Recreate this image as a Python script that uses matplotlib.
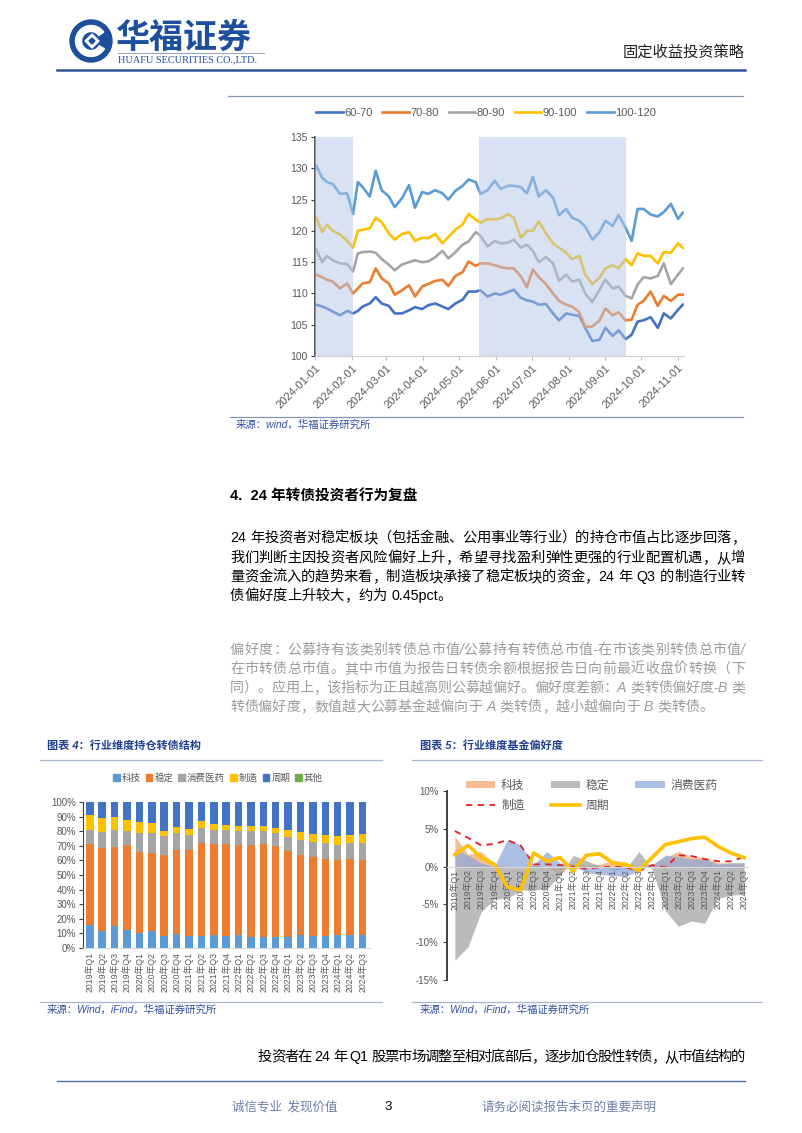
import re
import numpy as np
import pandas as pd
import matplotlib
matplotlib.use('Agg')
import matplotlib.pyplot as plt
import matplotlib.dates as mdates
from matplotlib.patches import Circle, Wedge, Polygon, Patch, Rectangle
from matplotlib.lines import Line2D

W, H = 802, 1133
CJK = 'Noto Sans CJK SC'
plt.rcParams['font.family'] = ['Liberation Sans', CJK, 'DejaVu Sans']
plt.rcParams['axes.unicode_minus'] = False

# ---------------- top chart: convertible price index by price bucket ----------------
dates = ['2024-01-02', '2024-01-07', '2024-01-11', '2024-01-16', '2024-01-22', '2024-01-28',
         '2024-02-02', '2024-02-06', '2024-02-10', '2024-02-16', '2024-02-21', '2024-02-26',
         '2024-03-03', '2024-03-08', '2024-03-14', '2024-03-20', '2024-03-25', '2024-03-31',
         '2024-04-05', '2024-04-11', '2024-04-17', '2024-04-22', '2024-04-28',
         '2024-05-04', '2024-05-09', '2024-05-15', '2024-05-19', '2024-05-25', '2024-05-31',
         '2024-06-05', '2024-06-11', '2024-06-16', '2024-06-22', '2024-06-27',
         '2024-07-02', '2024-07-07', '2024-07-13', '2024-07-19', '2024-07-24', '2024-07-30',
         '2024-08-04', '2024-08-10', '2024-08-15', '2024-08-21', '2024-08-27',
         '2024-09-01', '2024-09-07', '2024-09-12', '2024-09-18', '2024-09-23', '2024-09-28',
         '2024-10-03', '2024-10-09', '2024-10-15', '2024-10-20', '2024-10-26',
         '2024-11-01', '2024-11-05']
p60_70 = [108.2, 107.9, 107.6, 107.1, 106.5, 107.2, 106.8, 107.2, 107.9, 108.4, 109.4, 108.4,
          108.0, 106.8, 106.8, 107.3, 107.8, 107.5, 108.1, 108.4, 107.9, 107.5, 108.4,
          109.0, 110.3, 110.3, 110.5, 109.5, 110.0, 109.8, 110.2, 110.6, 109.3, 108.9,
          108.7, 108.2, 108.3, 106.8, 105.7, 106.8, 106.6, 106.4, 104.5, 102.4, 102.6,
          104.5, 103.2, 104.1, 102.7, 103.4, 105.5, 105.7, 106.2, 104.5, 106.8, 106.0,
          107.4, 108.2]
p70_80 = [113.0, 112.6, 112.2, 111.9, 110.8, 111.6, 110.0, 110.8, 111.6, 111.8, 114.0, 112.4,
          111.6, 109.8, 110.5, 111.3, 109.5, 111.1, 111.5, 112.0, 112.2, 111.2, 112.8,
          113.4, 115.1, 114.4, 114.8, 114.8, 114.5, 114.2, 114.0, 114.0, 112.7, 111.0,
          113.8, 112.6, 111.5, 110.0, 108.8, 108.2, 107.9, 107.0, 104.7, 104.7, 105.7,
          107.6, 106.5, 107.0, 105.7, 105.8, 108.2, 108.8, 110.3, 108.0, 109.6, 108.8,
          109.8, 109.8]
p80_90 = [117.0, 115.0, 116.0, 115.3, 114.8, 114.7, 113.5, 116.4, 116.6, 116.7, 116.5, 115.5,
          114.6, 113.7, 114.6, 115.0, 115.3, 115.0, 115.1, 115.8, 116.8, 115.6, 116.6,
          117.8, 118.3, 119.8, 119.2, 117.5, 118.4, 118.0, 118.1, 118.6, 117.3, 117.8,
          116.8, 115.0, 115.8, 114.8, 112.0, 113.0, 111.9, 112.2, 110.0, 108.6, 110.6,
          112.2, 110.8, 111.1, 109.6, 109.2, 111.4, 112.6, 112.4, 112.8, 114.8, 111.5,
          113.0, 114.0]
p90_100 = [122.1, 119.8, 121.0, 120.0, 119.4, 118.4, 117.3, 120.0, 120.2, 120.4, 122.1, 121.4,
           119.6, 118.6, 119.5, 119.8, 118.4, 118.9, 118.8, 119.5, 118.0, 119.0, 120.2,
           121.0, 122.7, 121.8, 121.3, 121.9, 121.8, 122.0, 122.7, 122.1, 118.9, 120.0,
           120.0, 121.5, 119.6, 118.0, 117.3, 116.5, 115.5, 116.0, 113.0, 111.5, 112.5,
           114.0, 114.5, 114.0, 115.5, 114.5, 116.4, 116.0, 116.0, 114.8, 116.6, 116.5,
           118.0, 117.3]
p100_120 = [130.4, 128.5, 127.8, 127.5, 125.9, 126.0, 122.7, 127.8, 127.0, 125.5, 129.6, 126.5,
            125.5, 123.8, 125.2, 127.3, 123.7, 126.2, 125.9, 126.5, 126.0, 125.0, 126.4,
            127.2, 128.2, 127.8, 125.9, 126.5, 128.0, 126.7, 127.2, 127.2, 127.0, 126.0,
            128.6, 125.5, 126.5, 125.3, 122.5, 123.5, 122.1, 121.6, 120.7, 118.6, 119.8,
            121.6, 120.8, 122.5, 120.5, 118.4, 123.5, 123.5, 122.6, 122.3, 123.0, 124.3,
            121.9, 122.9]
bucket_labels = ['60-70', '70-80', '80-90', '90-100', '100-120']
bucket_colors = ['#4472C4', '#ED7D31', '#A5A5A5', '#FFC000', '#5B9BD5']
shade_periods = [('2024-01-01', '2024-02-02'), ('2024-05-18', '2024-09-18')]

# ---------------- bottom charts: quarters ----------------
quarters = ['2019年Q1', '2019年Q2', '2019年Q3', '2019年Q4', '2020年Q1', '2020年Q2', '2020年Q3',
            '2020年Q4', '2021年Q1', '2021年Q2', '2021年Q3', '2021年Q4', '2022年Q1', '2022年Q2',
            '2022年Q3', '2022年Q4', '2023年Q1', '2023年Q2', '2023年Q3', '2023年Q4', '2024年Q1',
            '2024年Q2', '2024年Q3']

# holding structure (%)
hold_tech = [16.0, 11.9, 15.3, 12.6, 10.3, 11.4, 8.4, 9.8, 8.0, 8.4, 8.7, 8.0, 9.1, 7.5, 7.3,
             7.3, 7.5, 8.7, 8.0, 8.4, 8.7, 8.9, 8.9]
hold_stable = [55.4, 56.5, 53.7, 58.1, 55.6, 53.6, 55.4, 57.0, 59.3, 63.5, 62.2, 62.9, 61.6, 63.2,
               64.1, 62.3, 58.6, 55.1, 54.3, 52.5, 51.3, 52.0, 51.6]
hold_consumer = [9.6, 11.2, 12.0, 9.2, 12.8, 13.5, 12.6, 11.9, 10.0, 10.5, 10.1, 9.6, 9.4, 9.4,
                 8.7, 9.1, 9.9, 10.3, 10.0, 10.9, 10.7, 10.9, 11.3]
hold_manuf = [9.8, 9.2, 8.5, 7.5, 7.8, 6.9, 3.7, 4.1, 4.2, 4.6, 3.9, 3.9, 3.7, 3.7, 3.4, 3.7, 5.0,
              5.5, 5.7, 5.5, 5.7, 5.5, 6.2]
hold_cyclic = [9.2, 11.2, 10.5, 12.6, 13.5, 14.6, 19.9, 17.2, 18.5, 13.0, 15.1, 15.6, 16.2, 16.2,
               16.5, 17.6, 19.0, 20.4, 22.0, 22.7, 23.6, 22.7, 22.0]
hold_other = [0.0, 0.0, 0.0, 0.0, 0.0, 0.0, 0.0, 0.0, 0.0, 0.0, 0.0, 0.0, 0.0, 0.0, 0.0, 0.0,
              0.0, 0.0, 0.0, 0.0, 0.0, 0.0, 0.0]
hold_labels = ['科技', '稳定', '消费医药', '制造', '周期', '其他']
hold_colors = ['#5B9BD5', '#ED7D31', '#A5A5A5', '#FFC000', '#4472C4', '#70AD47']

# fund preference (%)
pref_tech = [4.0, 1.6, 2.0, 0.3, 0.0, 0.0, 0.2, 0.0, -1.0, 0.4, 0.2, 0.3, 0.8, 0.5, -0.5, 0.3,
             1.2, 2.0, 1.3, 1.2, 0.5, 0.5, 0.5]
pref_stable = [-12.4, -10.6, -6.0, -4.3, -4.2, -3.1, -3.1, -2.9, -1.2, 1.5, 0.8, 0.1, -0.5, -0.3,
               2.0, -0.3, -5.8, -7.9, -7.2, -7.5, -4.2, -3.8, -3.6]
pref_consumer = [2.3, 1.5, 0.5, 0.0, 3.6, 2.9, 0.3, 2.0, 0.5, 0.2, -0.8, -1.0, -1.2, -1.3, -0.5,
                 0.2, 1.5, 1.3, 1.0, 1.0, 0.3, 0.5, 0.5]
pref_manuf = [4.7, 3.8, 2.8, 3.0, 3.5, 2.8, 0.3, 0.3, 0.2, 0.0, -0.3, -0.1, 0.0, -0.1, -0.6, 0.2,
              -0.1, 1.5, 1.4, 1.0, 0.7, 0.7, 1.3]
pref_cyclic = [1.6, 2.8, 1.2, 0.3, -2.7, -3.1, 1.8, 0.7, 1.2, -0.6, 1.5, 1.7, 0.5, 0.3, -0.5, 1.2,
               2.9, 3.3, 3.7, 3.9, 2.7, 1.8, 1.2]

# ---------------- page text ----------------
section_title = '4.  24 年转债投资者行为复盘'
para1 = ['24 年投资者对稳定板块（包括金融、公用事业等行业）的持仓市值占比逐步回落，',
         '我们判断主因投资者风险偏好上升，希望寻找盈利弹性更强的行业配置机遇，从增',
         '量资金流入的趋势来看，制造板块承接了稳定板块的资金，24 年 Q3 的制造行业转',
         '债偏好度上升较大，约为 0.45pct。']
para2 = ['偏好度：公募持有该类别转债总市值/公募持有转债总市值-在市该类别转债总市值/',
         '在市转债总市值。其中市值为报告日转债余额根据报告日向前最近收盘价转换（下',
         '同）。应用上，该指标为正且越高则公募越偏好。偏好度差额：A 类转债偏好度-B 类',
         '转债偏好度，数值越大公募基金越偏向于 A 类转债，越小越偏向于 B 类转债。']
last_line = '投资者在 24 年 Q1 股票市场调整至相对底部后，逐步加仓股性转债，从市值结构的'

BLUE = '#1D4F9C'
GREY_TXT = '#595959'


def fx(x):
    return x / W


def fy(y):
    return 1 - y / H


def box(x0, y0, x1, y1):
    return [fx(x0), fy(y1), (x1 - x0) / W, (y1 - y0) / H]


def hline(y, x0, x1, color, lw=0.8):
    fig.add_artist(Line2D([fx(x0), fx(x1)], [fy(y), fy(y)], transform=fig.transFigure,
                          color=color, lw=lw))


fig = plt.figure(figsize=(W / 100, H / 100), dpi=100)
fig.patch.set_facecolor('white')
renderer = fig.canvas.get_renderer()


def put_line(s, x0, y, x1=None, size=10.3, color='#000000', **kw):
    # lay text out token by token; if x1 is given, spread it to fill x0..x1
    toks = re.findall(r'[A-Za-z0-9.%]+|.', s)
    objs, widths = [], []
    for t in toks:
        if t == ' ':
            objs.append(None)
            widths.append(size * 100 / 72 * 0.3)
            continue
        o = fig.text(0, fy(y), t, fontsize=size, color=color, va='center', ha='left', **kw)
        objs.append(o)
        widths.append(o.get_window_extent(renderer).width)
    gap = 0.0
    if x1 is not None and len(toks) > 1:
        gap = (x1 - x0 - sum(widths)) / (len(toks) - 1)
    x = x0
    for o, w in zip(objs, widths):
        if o is not None:
            o.set_x(fx(x))
        x += w + gap


# ---------------- header ----------------
lg = fig.add_axes(box(68, 18, 114, 64))
lg.set_xlim(-23, 23)
lg.set_ylim(-23, 23)
lg.set_aspect('equal')
lg.axis('off')
lg.add_patch(Circle((0, 0), 21, color=BLUE))
lg.add_patch(Wedge((0, 0), 15.5, 35, 330, width=6, color='white'))
lg.add_patch(Polygon([(-6, 0), (1, 7), (8, 0), (1, -7)], closed=True, color='white'))
lg.add_patch(Polygon([(-2, 0), (1, 3), (4, 0), (1, -3)], closed=True, color=BLUE))

fig.text(fx(116), fy(37), '华福证券', fontsize=24.5, fontweight='bold', color=BLUE,
         va='center', ha='left', family=CJK)
hline(53, 118, 264, '#7f8fb0', 0.6)
fig.text(fx(118), fy(59.5), 'HUAFU SECURITIES CO.,LTD.', fontsize=7.4, color=BLUE,
         va='center', ha='left', family='Liberation Serif')
fig.text(fx(745), fy(52), '固定收益投资策略', fontsize=11, color='#202020',
         va='center', ha='right', family=CJK)
hline(70, 57, 745, '#2E5597', 1.8)

# ---------------- top chart ----------------
hline(96, 228, 743, '#8497B0', 0.9)
ax = fig.add_axes(box(315, 137, 684, 356))
d = pd.to_datetime(dates)
series = [p60_70, p70_80, p80_90, p90_100, p100_120]
for vals, c, lab in zip(series, bucket_colors, bucket_labels):
    ax.plot(d, vals, color=c, lw=1.9, label=lab, zorder=2)
for a, b in shade_periods:
    ax.axvspan(pd.Timestamp(a), pd.Timestamp(b), color='#B4C7E7', alpha=0.5, lw=0, zorder=3)
ax.set_ylim(100, 135)
ax.set_yticks(np.arange(100, 136, 5))
ax.set_xlim(pd.Timestamp('2024-01-01'), pd.Timestamp('2024-11-06'))
ax.xaxis.set_major_locator(mdates.MonthLocator())
ax.xaxis.set_major_formatter(mdates.DateFormatter('%Y-%m-%d'))
for lab in ax.get_xticklabels():
    lab.set_rotation(45)
    lab.set_ha('right')
    lab.set_rotation_mode('anchor')
ax.tick_params(axis='x', labelsize=8, colors=GREY_TXT, length=3, color='#BFBFBF', pad=2)
ax.tick_params(axis='y', labelsize=7.5, colors=GREY_TXT, length=3, color='#404040', pad=2)
for s in ['top', 'right']:
    ax.spines[s].set_visible(False)
ax.spines['left'].set_color('#404040')
ax.spines['left'].set_linewidth(1.2)
ax.spines['bottom'].set_color('#D0D0D0')
h, l = ax.get_legend_handles_labels()
fig.legend(h, l, loc='center', bbox_to_anchor=(fx(486), fy(113)), ncol=5, frameon=False,
           fontsize=8, labelcolor=GREY_TXT, handlelength=2.4, handletextpad=0.1,
           columnspacing=0.9)
hline(417, 230, 743, '#8497B0', 0.9)
fig.text(fx(236), fy(425), '来源：wind，华福证券研究所', fontsize=7.5, color='#2F4F9F',
         va='center', ha='left', style='italic')

# ---------------- body text ----------------
fig.text(fx(230), fy(497), section_title, fontsize=10.5, fontweight='bold', color='#000000',
         va='center', ha='left')
para1_y = [538, 558, 577, 596]
for i, (s, y) in enumerate(zip(para1, para1_y)):
    put_line(s, 230, y, 745 if i < len(para1) - 1 else None, size=10.3)
para2_y = [650, 669, 688, 707]
for i, (s, y) in enumerate(zip(para2, para2_y)):
    put_line(s, 230, y, 745 if i < len(para2) - 1 else None, size=10.1, color='#9C9C9C',
             style='italic')

# ---------------- bottom left chart ----------------
fig.text(fx(47), fy(746), '图表 4：行业维度持仓转债结构', fontsize=8, fontweight='bold',
         color='#1F3F8F', va='center', ha='left', style='italic')
hline(760, 40, 382, '#A6B4CF', 0.9)
ax2 = fig.add_axes(box(83, 802, 370, 948))
x = np.arange(len(quarters))
bottom = np.zeros(len(quarters))
hold = [hold_tech, hold_stable, hold_consumer, hold_manuf, hold_cyclic, hold_other]
for vals, c, lab in zip(hold, hold_colors, hold_labels):
    ax2.bar(x, vals, 0.6, bottom=bottom, color=c, label=lab, lw=0)
    bottom += np.array(vals)
ax2.set_ylim(0, 100)
ax2.set_xlim(-0.55, len(quarters) - 0.4)
ax2.set_yticks(np.arange(0, 101, 10))
ax2.set_yticklabels([f'{v}%' for v in range(0, 101, 10)])
ax2.set_xticks(x)
ax2.set_xticklabels(quarters, rotation=90)
ax2.tick_params(axis='y', labelsize=7, colors=GREY_TXT, length=3, color='#404040', pad=2)
ax2.tick_params(axis='x', labelsize=6.3, colors=GREY_TXT, length=0, pad=3)
for s in ['top', 'right']:
    ax2.spines[s].set_visible(False)
ax2.spines['left'].set_color('#404040')
ax2.spines['bottom'].set_color('#D9D9D9')
h2 = [Rectangle((0, 0), 1, 1, color=c) for c in hold_colors]
fig.legend(h2, hold_labels, loc='center', bbox_to_anchor=(fx(218), fy(778)), ncol=6,
           frameon=False, fontsize=6.8, labelcolor=GREY_TXT, handlelength=0.7, handleheight=0.7,
           handletextpad=0.2, columnspacing=0.55)
hline(1002, 40, 382, '#A6B4CF', 0.9)
fig.text(fx(47), fy(1010), '来源：Wind，iFind，华福证券研究所', fontsize=7.5, color='#2F4F9F',
         va='center', ha='left', style='italic')

# ---------------- bottom right chart ----------------
fig.text(fx(420), fy(746), '图表 5：行业维度基金偏好度', fontsize=8, fontweight='bold',
         color='#1F3F8F', va='center', ha='left', style='italic')
hline(760, 412, 762, '#A6B4CF', 0.9)
ax3 = fig.add_axes(box(447, 791, 748, 980))
ax3.spines['bottom'].set_position(('data', 0))
ax3.fill_between(x, 0, pref_tech, color='#F4B183', alpha=0.85, lw=0, label='科技')
ax3.fill_between(x, 0, pref_stable, color='#A5A5A5', alpha=0.75, lw=0, label='稳定')
ax3.fill_between(x, 0, pref_consumer, color='#8FAADC', alpha=0.75, lw=0, label='消费医药')
ax3.plot(x, pref_manuf, color='#E02020', lw=1.3, ls=(0, (3.5, 3)), label='制造')
ax3.plot(x, pref_cyclic, color='#FFC000', lw=2.6, label='周期')
ax3.set_ylim(-15, 10)
ax3.set_xlim(-0.6, len(quarters) - 0.7)
ax3.set_yticks([-15, -10, -5, 0, 5, 10])
ax3.set_yticklabels(['-15%', '-10%', '-5%', '0%', '5%', '10%'])
ax3.set_xticks(x)
ax3.set_xticklabels(quarters, rotation=90)
ax3.spines['bottom'].set_color('#D9D9D9')
for s in ['top', 'right']:
    ax3.spines[s].set_visible(False)
ax3.spines['left'].set_color('#404040')
ax3.spines['left'].set_linewidth(1.4)
ax3.tick_params(axis='y', labelsize=7, colors=GREY_TXT, length=3, color='#404040', pad=3)
ax3.tick_params(axis='x', labelsize=6.3, colors=GREY_TXT, length=0, pad=2)
h3, l3 = ax3.get_legend_handles_labels()
hd = dict(zip(l3, h3))
order = ['科技', '制造', '稳定', '周期', '消费医药']
fig.legend([hd[k] for k in order], order, loc='upper left', bbox_to_anchor=(fx(455), fy(769)),
           ncol=3, frameon=False, fontsize=8.5, labelcolor=GREY_TXT, handlelength=2.5,
           handleheight=0.6, handletextpad=0.5, columnspacing=2.2, labelspacing=0.7)
hline(1002, 412, 762, '#A6B4CF', 0.9)
fig.text(fx(420), fy(1010), '来源：Wind，iFind，华福证券研究所', fontsize=7.5, color='#2F4F9F',
         va='center', ha='left', style='italic')

# ---------------- closing text and footer ----------------
put_line(last_line, 258, 1057, 745, size=10.3)
hline(1081, 57, 745, '#4F6FA8', 1.0)
fig.text(fx(232), fy(1107), '诚信专业  发现价值', fontsize=9, color='#6F7FA8', va='center',
         ha='left', family=CJK)
fig.text(fx(384), fy(1107), '3', fontsize=9.5, color='#000000', va='center', ha='left')
fig.text(fx(482), fy(1107), '请务必阅读报告末页的重要声明', fontsize=9, color='#6F7FA8',
         va='center', ha='left', family=CJK)

fig.savefig('out.png', dpi=100)
